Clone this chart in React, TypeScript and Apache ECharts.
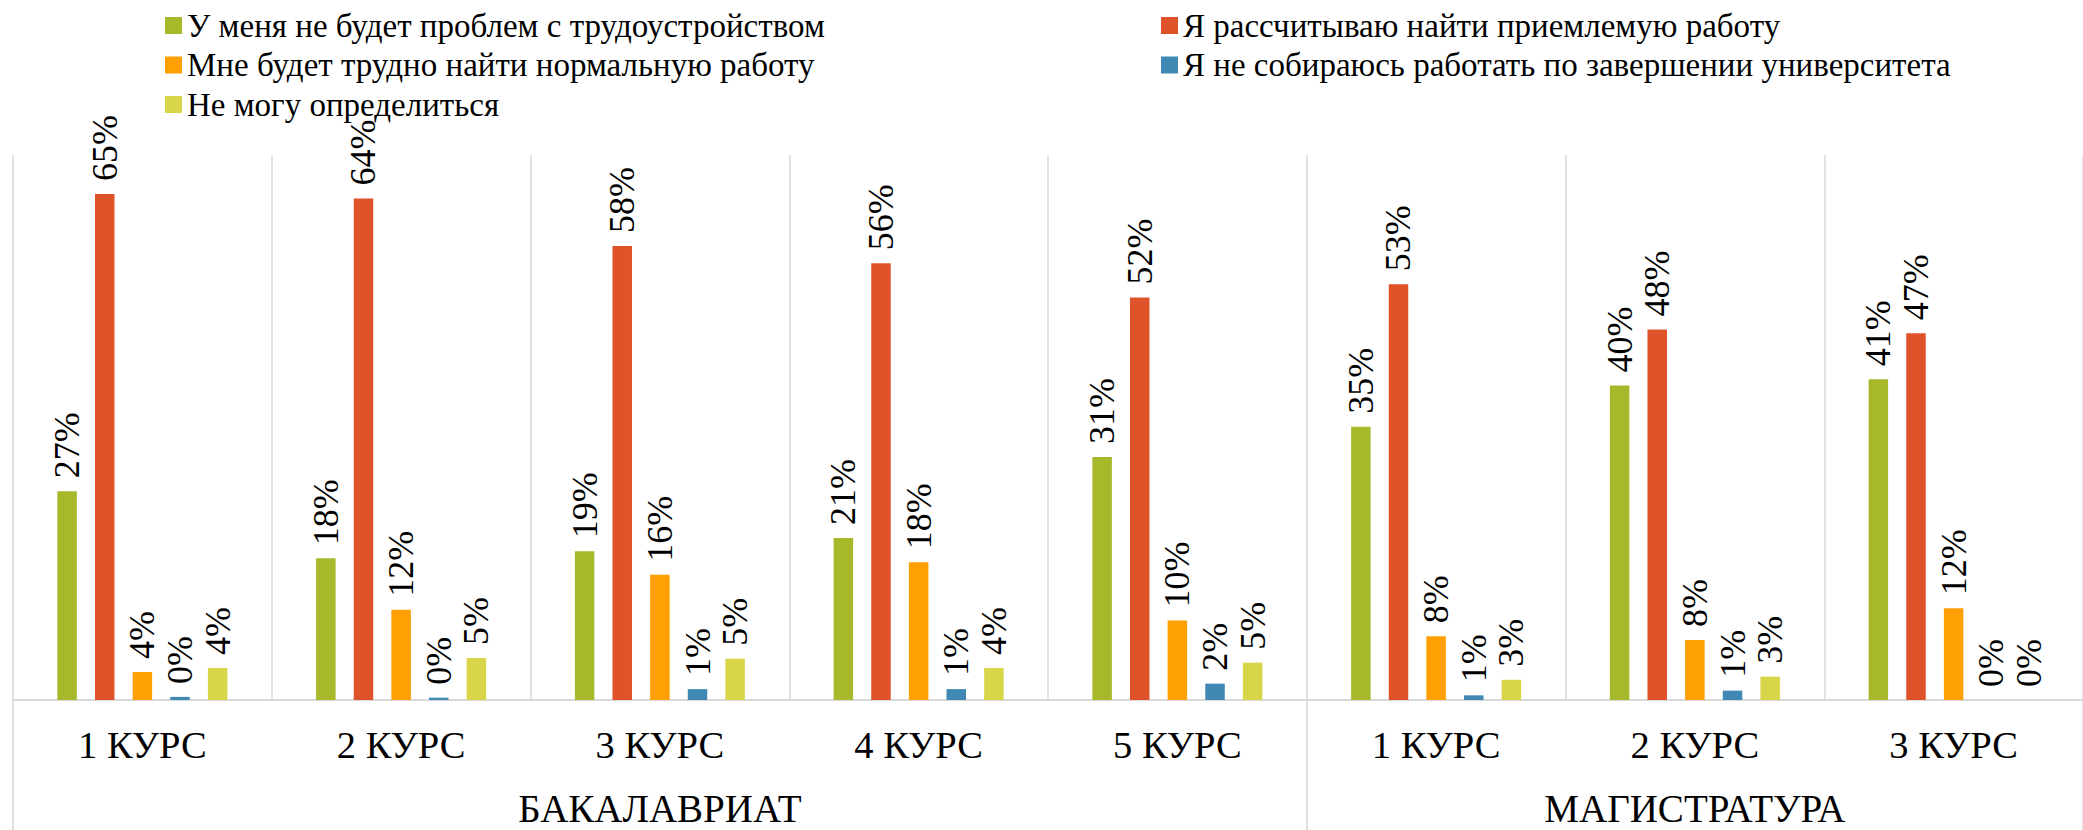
import React, { useEffect, useRef } from "react";
import * as echarts from "echarts";

const categories = ["1 КУРС", "2 КУРС", "3 КУРС", "4 КУРС", "5 КУРС", "1 КУРС", "2 КУРС", "3 КУРС"];
const groupNames = ["БАКАЛАВРИАТ", "МАГИСТРАТУРА"];
const groupSizes = [5, 3];

const seriesNames = [
  "У меня не будет проблем с трудоустройством",
  "Я рассчитываю найти приемлемую работу",
  "Мне будет трудно найти нормальную работу",
  "Я не собираюсь работать по завершении университета",
  "Не могу определиться",
];
const noProblems = [26.8, 18.2, 19.1, 20.8, 31.2, 35.1, 40.4, 41.2];
const expectAcceptable = [65.0, 64.4, 58.3, 56.1, 51.7, 53.4, 47.6, 47.1];
const hardToFind = [3.6, 11.6, 16.1, 17.7, 10.2, 8.2, 7.7, 11.8];
const notGoingToWork = [0.4, 0.3, 1.4, 1.4, 2.1, 0.6, 1.2, 0];
const undecided = [4.1, 5.4, 5.3, 4.1, 4.8, 2.6, 3.0, 0];

const seriesValues = [noProblems, expectAcceptable, hardToFind, notGoingToWork, undecided];
const colors = ["#a8b82b", "#e0532a", "#fe9f03", "#4189b5", "#d9d549"];

const FONT = "Liberation Serif";
const GRID_COLOR = "#d9d9d9";

export default function App() {
  const ref = useRef<HTMLDivElement>(null);

  useEffect(() => {
    if (!ref.current) return;
    const chart = echarts.init(ref.current, undefined, { renderer: "svg" });

    const boundaries: number[] = [];
    const groupLabelAt: Record<number, string> = {};
    let acc = 0;
    groupSizes.forEach((n, gi) => {
      boundaries.push(acc);
      groupLabelAt[acc + Math.floor(n / 2)] = groupNames[gi];
      acc += n;
    });
    boundaries.push(acc);

    const legendCommon = {
      orient: "vertical" as const,
      itemWidth: 17,
      itemHeight: 17,
      itemGap: 6.5,
      icon: "rect",
      textStyle: { fontFamily: FONT, fontSize: 33, color: "#000" },
    };

    chart.setOption({
      animation: false,
      color: colors,
      textStyle: { fontFamily: FONT },
      legend: [
        { ...legendCommon, left: 160, top: 4, data: [seriesNames[0], seriesNames[2], seriesNames[4]] },
        { ...legendCommon, left: 1156, top: 4, data: [seriesNames[1], seriesNames[3]] },
      ],
      grid: { left: 13, right: -6, top: 155, bottom: 130, containLabel: false },
      xAxis: [
        {
          type: "category",
          data: categories,
          axisLine: { show: true, lineStyle: { color: GRID_COLOR, width: 2 } },
          axisTick: { show: false },
          splitLine: { show: true, interval: 0, lineStyle: { color: GRID_COLOR, width: 1.5 } },
          axisLabel: { interval: 0, fontFamily: FONT, fontSize: 38.5, color: "#000", margin: 25 },
        },
        {
          type: "category",
          data: categories,
          position: "bottom",
          axisLine: { show: false },
          axisTick: {
            show: true,
            length: 130,
            interval: (index: number) => boundaries.indexOf(index) >= 0,
            lineStyle: { color: GRID_COLOR, width: 1.5 },
          },
          splitLine: { show: false },
          axisLabel: {
            interval: 0,
            fontFamily: FONT,
            fontSize: 39,
            lineHeight: 39,
            color: "#000",
            margin: 89,
            formatter: (_v: string, index: number) => groupLabelAt[index] || "",
          },
        },
      ],
      yAxis: {
        type: "value",
        min: 0,
        max: 70,
        show: false,
        splitLine: { show: false },
      },
      series: seriesNames.map((name, i) => ({
        name,
        type: "bar",
        xAxisIndex: 0,
        data: seriesValues[i],
        barWidth: 19.5,
        barGap: "93%",
        itemStyle: { color: colors[i] },
        label: {
          show: true,
          position: "top",
          rotate: 90,
          align: "left",
          verticalAlign: "middle",
          distance: 13,
          fontFamily: FONT,
          fontSize: 36,
          color: "#000",
          formatter: (p: any) => Math.round(p.value) + "%",
        },
      })),
    });

    return () => chart.dispose();
  }, []);

  return (
    <div
      ref={ref}
      style={{ position: "fixed", left: 0, top: 0, width: 2083, height: 830, background: "#fff" }}
    />
  );
}
